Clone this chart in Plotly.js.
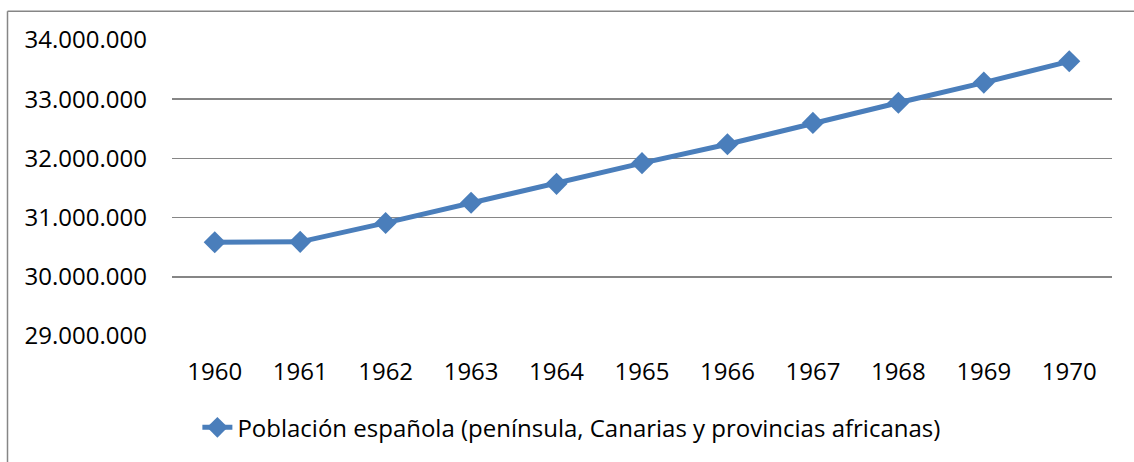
<!DOCTYPE html>
<html>
<head>
<meta charset="utf-8">
<script src="https://cdn.plot.ly/plotly-3.0.1.min.js"></script>
<style>
html,body{margin:0;padding:0;background:#fff;}
#chart{width:1134px;height:462px;}
</style>
</head>
<body>
<div id="chart"></div>
<script>
const years = ['1960','1961','1962','1963','1964','1965','1966','1967','1968','1969','1970'];
const poblacion = [30583000, 30590000, 30910000, 31250000, 31570000, 31920000, 32240000, 32600000, 32940000, 33280000, 33640000];
const seriesName = 'Población española (península, Canarias y provincias africanas)';
const yTicks = [29000000, 30000000, 31000000, 32000000, 33000000, 34000000];
const yTickText = ['29.000.000','30.000.000','31.000.000','32.000.000','33.000.000','34.000.000'];

const blue = '#4A7EBB';
const grid = '#868686';
const fontFam = '"Open Sans", sans-serif';

const trace = {
  x: years,
  y: poblacion,
  name: seriesName,
  type: 'scatter',
  mode: 'lines+markers',
  line: {color: blue, width: 5},
  marker: {symbol: 'diamond', size: 17, color: blue},
  showlegend: true
};

const layout = {
  width: 1134,
  height: 462,
  margin: {l: 172, r: 22, t: 40, b: 124},
  paper_bgcolor: '#fff',
  plot_bgcolor: '#fff',
  font: {family: fontFam, size: 24, color: '#000'},
  xaxis: {
    type: 'category',
    range: [-0.5, 10.5],
    showgrid: false,
    zeroline: false,
    showline: false,
    ticks: '',
    ticklabelstandoff: 19,
    tickfont: {family: fontFam, size: 24, color: '#000'}
  },
  yaxis: {
    range: [29000000, 34000000],
    tickvals: yTicks,
    ticktext: yTickText,
    showgrid: true,
    gridcolor: grid,
    gridwidth: 1.5,
    zeroline: false,
    showline: false,
    ticks: '',
    ticklabelstandoff: 24,
    tickfont: {family: fontFam, size: 24, color: '#000'}
  },
  legend: {
    orientation: 'h',
    x: 0.027,
    xanchor: 'left',
    y: -0.31,
    yanchor: 'middle',
    font: {family: fontFam, size: 24, color: '#000'},
    bgcolor: 'rgba(0,0,0,0)'
  },
  shapes: [
    {type: 'line', xref: 'paper', yref: 'paper', x0: -0.175, x1: 1.03, y0: 1.097, y1: 1.097, line: {color: grid, width: 1.5}},
    {type: 'line', xref: 'paper', yref: 'paper', x0: -0.175, x1: -0.175, y0: 1.097, y1: -0.45, line: {color: grid, width: 1.5}}
  ]
};

Plotly.newPlot('chart', [trace], layout, {displayModeBar: false, staticPlot: true});
</script>
</body>
</html>
